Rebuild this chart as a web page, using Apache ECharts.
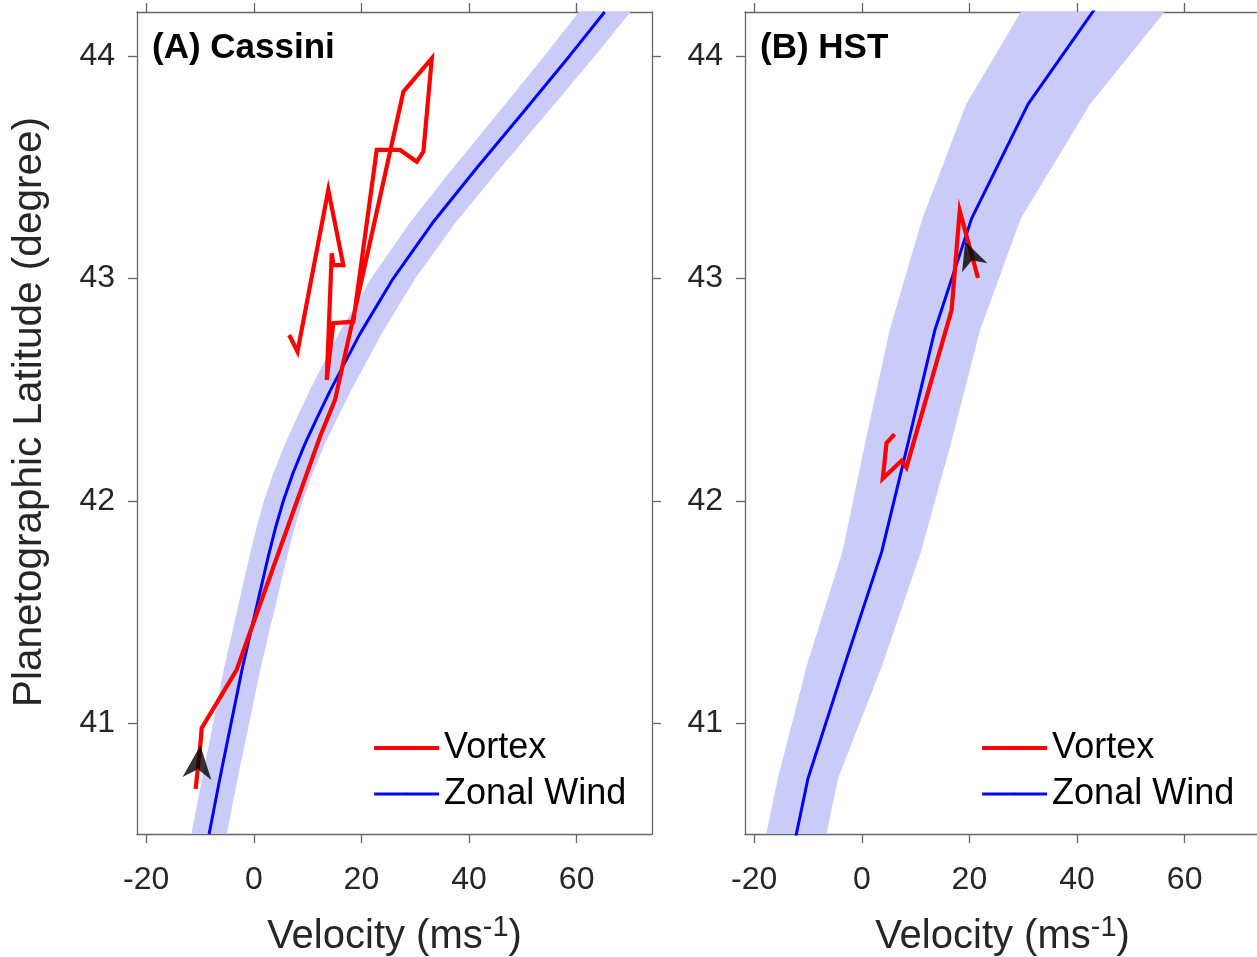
<!DOCTYPE html>
<html>
<head>
<meta charset="utf-8">
<script src="https://cdn.jsdelivr.net/npm/echarts@6/dist/echarts.min.js"></script>
<style>
  html, body { margin: 0; padding: 0; background: #fff; width: 1257px; height: 957px; overflow: hidden; }
  #chart { width: 1257px; height: 957px; }
</style>
</head>
<body>
<div id="chart"></div>
<script>
// ---- tick labels ----
const xTicks = [-20, 0, 20, 40, 60];
const yTicks = [41, 42, 43, 44];

// ---- Panel A (Cassini): zonal wind profile and its uncertainty ----
const latA  = [40.5, 40.75, 41.0, 41.25, 41.5, 41.75, 41.875, 42.0, 42.125, 42.25, 42.375, 42.5, 42.75, 43.0, 43.25, 43.5, 43.75, 44.0, 44.2];
const windA = [-8.3, -6.3, -4.2, -2.1, 0.3, 2.7, 4.0, 5.5, 7.3, 9.4, 11.8, 14.3, 19.7, 25.9, 33.2, 41.5, 50.1, 58.6, 65.2];
const errA  = [3.3, 3.3, 3.35, 3.4, 3.45, 3.5, 3.55, 3.6, 3.65, 3.7, 3.78, 3.85, 4.0, 4.1, 4.25, 4.4, 4.55, 4.7, 4.8];

// ---- Panel A vortex track ----
const vortexVelA = [-10.8, -9.87, -9.69, -3.18, 12.31, 15.1, 27.8, 33.08, 31.52, 30.29, 27.19, 22.85, 18.5, 14.78, 13.56, 14.49, 14.78, 16.64, 13.85, 8.13, 6.58];
const vortexLatA = [40.703, 40.916, 40.976, 41.239, 42.288, 42.454, 43.841, 43.991, 43.571, 43.526, 43.579, 43.579, 42.806, 42.799, 42.544, 43.114, 43.061, 43.061, 43.399, 42.671, 42.746];

// ---- Panel B (HST): zonal wind profile and its uncertainty ----
const latB  = [40.24, 40.75, 41.26, 41.77, 42.27, 42.77, 43.27, 43.785, 44.3];
const windB = [-14.4, -10.0, -3.2, 3.7, 8.7, 13.6, 20.4, 30.9, 45.8];
const errB  = [5.6, 5.6, 7.0, 7.3, 8.0, 8.4, 9.15, 11.5, 13.8];

// ---- Panel B vortex track ----
const vortexVelB = [21.6, 18.2, 16.7, 8.3, 7.4, 3.9, 4.6, 6.1];
const vortexLatB = [43.003, 43.306, 42.859, 42.15, 42.18, 42.10, 42.26, 42.30];

// ---- direction arrows (position of arrow head) ----
const arrowA = [[-10.24, 40.824]];
const arrowB = [[20.1, 43.108]];

const FONT = "'Liberation Sans', Arial, Helvetica, sans-serif";
const AXIS_COLOR = '#666666';
const LABEL_COLOR = '#262626';
const X_MIN = -21.7, X_MAX = 74.0, Y_MIN = 40.5, Y_MAX = 44.2;
const RED_W = 4.2, BLUE_W = 3.0;

function pairs(xs, ys) { return xs.map((v, i) => [v, ys[i]]); }

function xAxisDef(gridIndex, position, showLabel) {
  const ax = {
    type: 'value', gridIndex: gridIndex, position: position,
    min: X_MIN, max: X_MAX,
    axisLine: { show: true, onZero: false, lineStyle: { color: AXIS_COLOR, width: 1.3 } },
    axisTick: { show: true, inside: false, length: 9, customValues: xTicks, lineStyle: { color: AXIS_COLOR, width: 1.3 } },
    axisLabel: { show: showLabel, customValues: xTicks, fontSize: 32, fontFamily: FONT, color: LABEL_COLOR, margin: 30 },
    splitLine: { show: false }
  };
  if (showLabel) {
    ax.name = '{a|Velocity (ms}{s|-1}{a|)}';
    ax.nameLocation = 'middle';
    ax.nameGap = 79;
    ax.nameTextStyle = {
      rich: {
        a: { fontSize: 40, fontFamily: FONT, color: LABEL_COLOR, lineHeight: 48 },
        s: { fontSize: 29, fontFamily: FONT, color: LABEL_COLOR, lineHeight: 18, verticalAlign: 'top' }
      }
    };
  }
  return ax;
}

function yAxisDef(gridIndex, position, showLabel) {
  return {
    type: 'value', gridIndex: gridIndex, position: position,
    min: Y_MIN, max: Y_MAX,
    axisLine: { show: true, onZero: false, lineStyle: { color: AXIS_COLOR, width: 1.3 } },
    axisTick: { show: true, inside: false, length: 9, customValues: yTicks, lineStyle: { color: AXIS_COLOR, width: 1.3 } },
    axisLabel: { show: showLabel, customValues: yTicks, fontSize: 32, fontFamily: FONT, color: LABEL_COLOR, margin: 22 },
    splitLine: { show: false }
  };
}

function bandSeries(name, xIdx, yIdx, lats, winds, errs) {
  return {
    type: 'custom', name: name, xAxisIndex: xIdx, yAxisIndex: yIdx,
    clip: true, silent: true, z: 1,
    data: [[winds[0], lats[0]]],
    renderItem: function (params, api) {
      const pts = [];
      for (let i = 0; i < lats.length; i++) pts.push(api.coord([winds[i] - errs[i], lats[i]]));
      for (let i = lats.length - 1; i >= 0; i--) pts.push(api.coord([winds[i] + errs[i], lats[i]]));
      const cs = params.coordSys;
      return {
        type: 'polygon',
        shape: { points: pts },
        style: { fill: '#CBCBF9', stroke: null },
        clipPath: { type: 'rect', shape: { x: cs.x, y: cs.y, width: cs.width, height: cs.height } }
      };
    }
  };
}

const arrowPath = 'path://M0,0 L14,32 L0,23 L-14,32 Z';

const legendBase = {
  data: [
    { name: 'Vortex', lineStyle: { width: RED_W, color: '#FF0000' } },
    { name: 'Zonal Wind', lineStyle: { width: BLUE_W, color: '#0000FF' } }
  ],
  orient: 'vertical', padding: 0,
  itemWidth: 65, itemHeight: 3, itemGap: 10,
  selectedMode: false,
  textStyle: { fontSize: 36, fontFamily: FONT, color: '#000' }
};

const option = {
  animation: false,
  backgroundColor: '#ffffff',
  title: [
    { text: '(A) Cassini', left: 152, top: 31, padding: 0,
      textStyle: { fontSize: 35, fontWeight: 'bold', fontFamily: FONT, color: '#000' } },
    { text: '(B) HST', left: 760, top: 31, padding: 0,
      textStyle: { fontSize: 35, fontWeight: 'bold', fontFamily: FONT, color: '#000' } }
  ],
  legend: [
    Object.assign({}, legendBase, { left: 372, top: 730 }),
    Object.assign({}, legendBase, { left: 980, top: 730 })
  ],
  grid: [
    { left: 137, top: 12, width: 515, height: 822, containLabel: false, outerBoundsMode: 'none' },
    { left: 745, top: 12, width: 515, height: 822, containLabel: false, outerBoundsMode: 'none' }
  ],
  xAxis: [
    xAxisDef(0, 'bottom', true),
    xAxisDef(0, 'top', false),
    xAxisDef(1, 'bottom', true),
    xAxisDef(1, 'top', false)
  ],
  yAxis: [
    yAxisDef(0, 'left', true),
    yAxisDef(0, 'right', false),
    yAxisDef(1, 'left', true),
    yAxisDef(1, 'right', false)
  ],
  graphic: [
    { type: 'text', x: 30, y: 412, rotation: Math.PI / 2,
      style: { text: 'Planetographic Latitude (degree)', font: '40.5px ' + FONT, fill: LABEL_COLOR,
               textAlign: 'center', textVerticalAlign: 'middle', align: 'center', verticalAlign: 'middle' } }
  ],
  series: [
    bandSeries('bandA', 0, 0, latA, windA, errA),
    { type: 'line', name: 'Zonal Wind', xAxisIndex: 0, yAxisIndex: 0, symbol: 'none', z: 2,
      data: pairs(windA, latA), lineStyle: { color: '#0000FF', width: BLUE_W }, itemStyle: { color: '#0000FF' } },
    { type: 'line', name: 'Vortex', xAxisIndex: 0, yAxisIndex: 0, symbol: 'none', z: 3,
      data: pairs(vortexVelA, vortexLatA), lineStyle: { color: '#FF0000', width: RED_W, join: 'miter' }, itemStyle: { color: '#FF0000' } },
    { type: 'scatter', name: 'arrowA', xAxisIndex: 0, yAxisIndex: 0, z: 5, silent: true,
      data: arrowA, symbol: arrowPath, symbolSize: [29, 33], symbolRotate: -6, itemStyle: { color: '#000' } },

    bandSeries('bandB', 2, 2, latB, windB, errB),
    { type: 'line', name: 'Zonal Wind', xAxisIndex: 2, yAxisIndex: 2, symbol: 'none', z: 2,
      data: pairs(windB, latB), lineStyle: { color: '#0000FF', width: BLUE_W }, itemStyle: { color: '#0000FF' } },
    { type: 'line', name: 'Vortex', xAxisIndex: 2, yAxisIndex: 2, symbol: 'none', z: 3,
      data: pairs(vortexVelB, vortexLatB), lineStyle: { color: '#FF0000', width: RED_W, join: 'miter' }, itemStyle: { color: '#FF0000' } },
    { type: 'scatter', name: 'arrowB', xAxisIndex: 2, yAxisIndex: 2, z: 5, silent: true,
      data: arrowB, symbol: arrowPath, symbolSize: [27, 28], symbolRotate: 20, itemStyle: { color: '#000' } }
  ]
};

const chart = echarts.init(document.getElementById('chart'), null, { renderer: 'canvas' });
chart.setOption(option);
</script>
</body>
</html>
